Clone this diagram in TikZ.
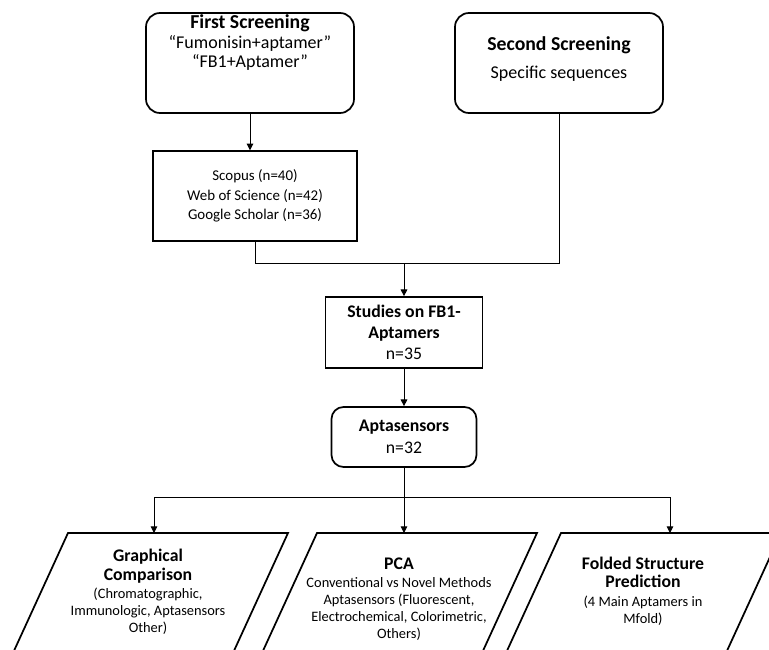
\documentclass[tikz,border=0pt]{standalone}
\usepackage{fontspec}
\setmainfont{Carlito}
\usetikzlibrary{shapes.geometric, arrows.meta, positioning}

\newcommand{\bigtitle}{\fontsize{14.8}{14.6}\selectfont\bfseries}
\newcommand{\midtitle}{\fontsize{13.3}{16}\selectfont\bfseries}
\newcommand{\smalltext}{\fontsize{10.8}{12.8}\selectfont}

\tikzset{
  frame/.style={draw, line width=1.3pt},
  box/.style={frame, align=center},
  roundbox/.style={box, rounded corners=10.5pt, minimum width=156pt, minimum height=75pt, inner sep=0pt, font=\fontsize{13.5}{14.6}\selectfont},
  slanttext/.style={align=center, inner sep=0pt, font=\smalltext},
  line/.style={draw, line width=0.7pt},
  arrow/.style={line, -{Triangle[length=5pt,width=5pt]}}
}

\begin{document}
\begin{tikzpicture}[x=0.75pt, y=-0.75pt]
\clip (0,0) rectangle (769,650);
% screening boxes
\node[roundbox] (first) at (250,63) {\parbox[c][72pt][t]{150pt}{\centering{\bigtitle First Screening}\\ “Fumonisin+aptamer”\\ “FB1+Aptamer”}};
\node[roundbox] (second) at (559,63) {\parbox[c][72pt][t]{150pt}{\centering\vspace*{16.5pt}{\bigtitle Second Screening}\\[6pt] Specific sequences}};
\node[box, line width=1.1pt, minimum width=153pt, minimum height=67.5pt, font=\fontsize{11.2}{14.5}\selectfont] (scopus) at (255,196) {Scopus (n=40)\\ Web of Science (n=42)\\ Google Scholar (n=36)};
\node[box, minimum width=117.75pt, minimum height=53.25pt, font=\fontsize{13.3}{15.8}\selectfont] (studies) at (404,332.5) {\textbf{Studies on FB1-}\\ \textbf{Aptamers}\\ n=35};
\node[box, rounded corners=9pt, minimum width=108.75pt, minimum height=45pt, font=\fontsize{13.3}{16.5}\selectfont] (apta) at (404,437) {\textbf{Aptasensors}\\ n=32};
% analysis boxes
\draw[frame] (68,533) -- (288,533) -- (233,653) -- (13,653) -- cycle;
\draw[frame] (317,533) -- (537,533) -- (482,653) -- (262,653) -- cycle;
\draw[frame] (561,533) -- (781,533) -- (726,653) -- (506,653) -- cycle;
\node[slanttext] (graph) at (148,592) {{\midtitle Graphical}\\[1pt] {\midtitle Comparison}\\[1pt] (Chromatographic,\\ Immunologic, Aptasensors\\ Other)};
\node[slanttext] (pca) at (399,599) {{\midtitle PCA}\\[1pt] Conventional vs Novel Methods\\ Aptasensors (Fluorescent,\\ Electrochemical, Colorimetric,\\ Others)};
\node[slanttext] (folded) at (643,591) {{\midtitle Folded Structure}\\[1pt] {\midtitle Prediction}\\[1pt] (4 Main Aptamers in\\ Mfold)};
% connectors
\coordinate (join) at (404,263);
\coordinate (fork) at (404,497);
\coordinate (graphtop) at (154,533);
\coordinate (pcatop) at (404,533);
\coordinate (foldedtop) at (670,533);
\draw[arrow] (first.south) -- (first.south |- scopus.north);
\draw[line] (scopus.south) |- (join);
\draw[line] (second.south) |- (join);
\draw[arrow] (join) -- (studies.north);
\draw[arrow] (studies.south) -- (apta.north);
\draw[line] (apta.south) -- (fork);
\draw[arrow] (fork) -| (graphtop);
\draw[arrow] (fork) -- (pcatop);
\draw[arrow] (fork) -| (foldedtop);
\end{tikzpicture}
\end{document}
